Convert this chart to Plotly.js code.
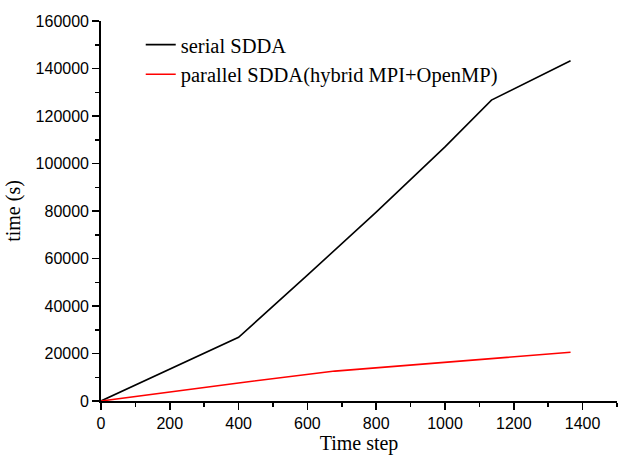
<!DOCTYPE html>
<html><head><meta charset="utf-8">
<script src="https://cdn.plot.ly/plotly-3.0.1.min.js"></script>
<style>html,body{margin:0;padding:0;background:#fff}#chart{width:630px;height:455px}</style>
</head><body><div id="chart"></div>
<script>
const serialSteps = [0, 400, 600, 800, 1000, 1135, 1365];
const serialTime = [0, 26800, 53000, 79500, 107000, 126700, 143300];
const parallelSteps = [0, 200, 400, 680, 1000, 1365];
const parallelTime = [0, 3900, 7600, 12600, 16300, 20500];
const seriesNames = ["serial SDDA", "parallel SDDA(hybrid MPI+OpenMP)"];

const traces = [
  {x: serialSteps, y: serialTime, name: seriesNames[0], mode: "lines", line: {color: "#000000", width: 1.6}},
  {x: parallelSteps, y: parallelTime, name: seriesNames[1], mode: "lines", line: {color: "#ff0000", width: 1.6}}
];
const layout = {
  width: 630, height: 455,
  margin: {l: 101, r: 13, t: 21, b: 54},
  paper_bgcolor: "#fff", plot_bgcolor: "#fff",
  showlegend: true,
  legend: {x: 0.077, y: 0.99, xanchor: "left", yanchor: "top", bgcolor: "rgba(0,0,0,0)",
    font: {family: "Liberation Serif", size: 20.5, color: "#000"}, tracegroupgap: 0},
  xaxis: {range: [0, 1500], tickvals: [0,200,400,600,800,1000,1200,1400], showgrid: false, zeroline: false,
    showline: true, linecolor: "#000", linewidth: 1.8, ticks: "outside", ticklen: 7, tickwidth: 1.5, tickcolor: "#000",
    minor: {dtick: 100, ticks: "outside", ticklen: 4, tickwidth: 1.5, tickcolor: "#000", showgrid: false},
    tickfont: {family: "Liberation Sans", size: 16, color: "#000"},
    title: {text: "Time step", font: {family: "Liberation Serif", size: 20, color: "#000"}, standoff: 4}},
  yaxis: {range: [0, 160000], dtick: 20000, showgrid: false, zeroline: false,
    showline: true, linecolor: "#000", linewidth: 1.8, ticks: "outside", ticklen: 7, tickwidth: 1.5, tickcolor: "#000",
    minor: {dtick: 10000, ticks: "outside", ticklen: 4, tickwidth: 1.5, tickcolor: "#000", showgrid: false},
    tickformat: "d",
    tickfont: {family: "Liberation Sans", size: 16, color: "#000"},
    title: {text: "time (s)", font: {family: "Liberation Serif", size: 20, color: "#000"}, standoff: 10}}
};
Plotly.newPlot("chart", traces, layout, {displayModeBar: false, staticPlot: true});
</script></body></html>
